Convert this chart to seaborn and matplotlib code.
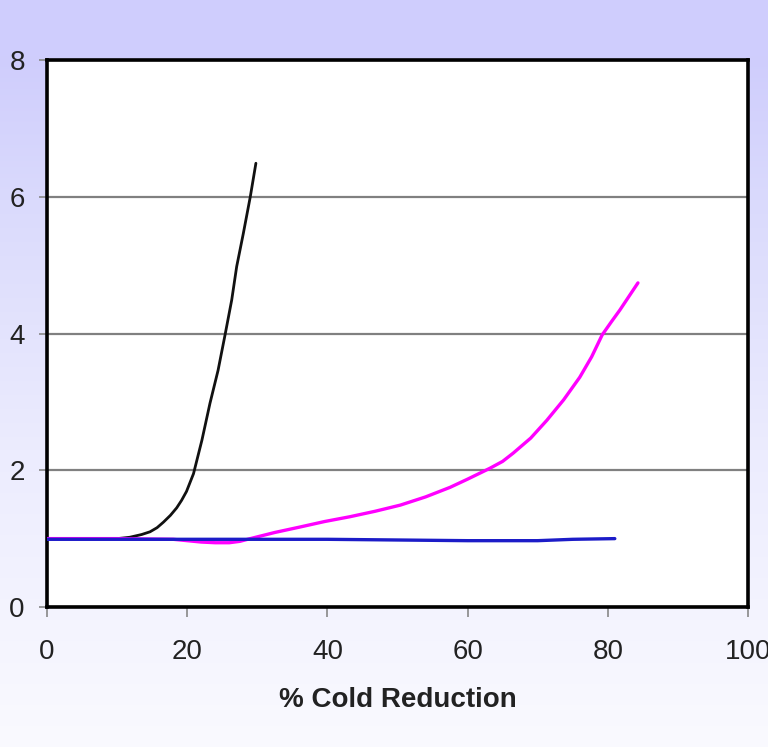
import numpy as np
import pandas as pd
import matplotlib
matplotlib.use("Agg")
import matplotlib.pyplot as plt
import seaborn as sns

# curve data (x = % cold reduction)
black_x = [0, 5, 10, 11.8, 13.5, 14.7, 15.7, 16.6, 17.6, 18.5, 19.2, 19.9, 20.9, 22.1, 23.25,
           24.4, 25.4, 26.35, 27.06, 28.0, 29.0, 29.8]
black_y = [1.0, 1.0, 1.0, 1.02, 1.06, 1.10, 1.16, 1.24, 1.34, 1.45, 1.56, 1.69, 1.95, 2.44, 2.98,
           3.46, 3.98, 4.49, 4.98, 5.46, 6.0, 6.49]

magenta_x = [0, 10, 18, 20, 22, 24, 26, 27.5, 29, 32.5, 36.1, 39.6, 43.2, 46.8, 50.4, 54, 57.5, 60,
             61.8, 63.2, 65, 66.5, 69, 71.3, 73.7, 76.0, 77.7, 79.2, 80.5, 81.7, 83, 84.3]
magenta_y = [1.0, 1.0, 0.99, 0.97, 0.95, 0.94, 0.94, 0.96, 1.0, 1.09, 1.17, 1.25, 1.32, 1.40, 1.49, 1.61,
             1.75, 1.87, 1.96, 2.03, 2.13, 2.25, 2.47, 2.73, 3.03, 3.36, 3.66, 3.98, 4.17, 4.34, 4.54, 4.74]

blue_x = [0, 10, 20, 30, 40, 50, 60, 70, 75, 81]
blue_y = [0.99, 0.99, 0.99, 0.99, 0.99, 0.98, 0.97, 0.97, 0.99, 1.0]

x_ticks = [0, 20, 40, 60, 80, 100]
y_ticks = [0, 2, 4, 6, 8]

sns.set_style("white")
plt.rcParams['font.family'] = ['Liberation Sans', 'DejaVu Sans']

fig = plt.figure(figsize=(7.68, 7.47), dpi=100)

# lavender-to-white background gradient
bg = fig.add_axes([0, 0, 1, 1], zorder=-10)
rows = np.array([0, 55, 200, 450, 747])
cols = np.array([[207, 205, 253], [207, 205, 253], [218, 218, 252], [236, 236, 254], [250, 250, 255]]) / 255
yy = np.arange(747)
grad = np.stack([np.interp(yy, rows, cols[:, k]) for k in range(3)], axis=1)
bg.imshow(grad[:, None, :], aspect="auto", extent=[0, 1, 0, 1])
bg.axis("off")

ax = fig.add_axes([47 / 768, 140 / 747, 701 / 768, 547 / 747])
ax.set_facecolor("white")

df_black = pd.DataFrame({"x": black_x, "y": black_y})
df_mag = pd.DataFrame({"x": magenta_x, "y": magenta_y})
df_blue = pd.DataFrame({"x": blue_x, "y": blue_y})

sns.lineplot(data=df_black, x="x", y="y", ax=ax, color="#111111", lw=2.0, sort=False, zorder=3)
sns.lineplot(data=df_mag, x="x", y="y", ax=ax, color="#ff00ff", lw=2.4, sort=False, zorder=3)
sns.lineplot(data=df_blue, x="x", y="y", ax=ax, color="#1c1cc8", lw=2.4, sort=False, zorder=4)

ax.set_xlim(0, 100)
ax.set_ylim(0, 8)
ax.set_xticks(x_ticks)
ax.set_yticks(y_ticks)
ax.yaxis.grid(True, color="#808080", lw=1.6)
ax.set_axisbelow(True)

for s in ax.spines.values():
    s.set_color("black")
    s.set_linewidth(2.6)

ax.tick_params(axis="y", direction="out", length=6, width=1.2, color="#888888",
               labelsize=20, labelcolor="#222222", pad=10, left=True)
ax.tick_params(axis="x", direction="out", length=7, width=1.2, color="#888888",
               labelsize=20, labelcolor="#222222", pad=16, bottom=True)

ax.set_xlabel("% Cold Reduction", fontsize=20, fontweight="bold", color="#222222", labelpad=16)
ax.set_ylabel("")

fig.savefig("out.png", dpi=100)
